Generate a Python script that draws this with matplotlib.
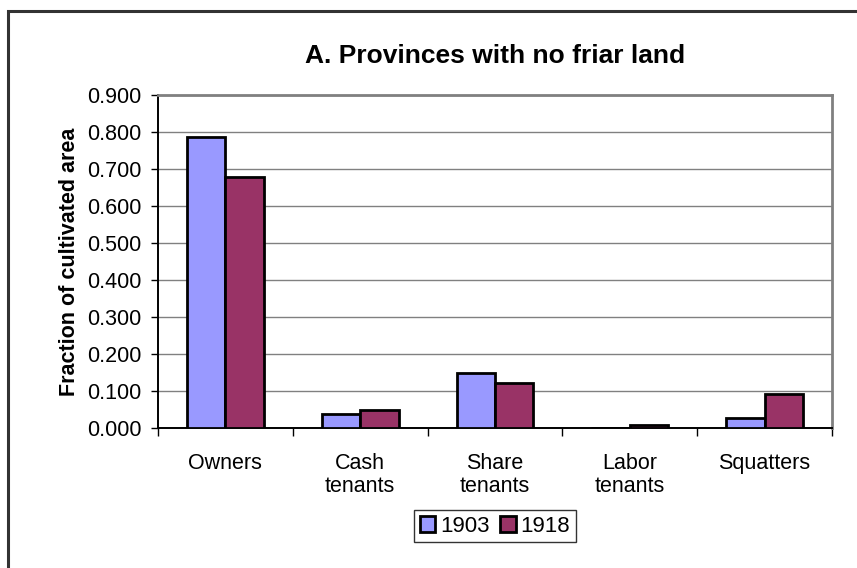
import matplotlib
matplotlib.use("Agg")
import matplotlib.pyplot as plt
import numpy as np
from matplotlib.patches import Rectangle

plt.rcParams['font.family'] = ['Liberation Sans', 'DejaVu Sans']

categories = ["Owners", "Cash\ntenants", "Share\ntenants", "Labor\ntenants", "Squatters"]
series_names = ["1903", "1918"]
values_1903 = [0.786, 0.037, 0.149, 0.0, 0.028]
values_1918 = [0.678, 0.048, 0.121, 0.007, 0.091]
yticks = [0.0, 0.1, 0.2, 0.3, 0.4, 0.5, 0.6, 0.7, 0.8, 0.9]

W, H = 857, 568
fig = plt.figure(figsize=(W / 100, H / 100), dpi=100)
fig.patch.set_facecolor("white")

# outer chart frame (extends past the right and bottom edges)
fig.add_artist(Rectangle((8 / W, -0.05), 1.2, 1 - 11 / H + 0.05, transform=fig.transFigure,
                         fill=False, edgecolor="#333333", linewidth=2.2))

left, right, top, bottom = 158, 832, 95, 428
ax = fig.add_axes([left / W, 1 - bottom / H, (right - left) / W, (bottom - top) / H])

x = np.arange(len(categories))
bw = 0.285
ax.bar(x - bw / 2, values_1903, bw, color="#9999FF", edgecolor="black", linewidth=2.0,
       label=series_names[0], zorder=3)
ax.bar(x + bw / 2, values_1918, bw, color="#993366", edgecolor="black", linewidth=2.0,
       label=series_names[1], zorder=3)

ax.set_xlim(-0.5, len(categories) - 0.5)
ax.set_ylim(0, 0.9)
ax.set_yticks(yticks)
ax.set_yticklabels([f"{v:.3f}" for v in yticks], fontsize=15.5)
ax.yaxis.grid(True, color="#808080", linewidth=1.0, zorder=0)
ax.set_axisbelow(True)

ax.set_xticks(np.arange(len(categories) + 1) - 0.5, minor=False)
ax.set_xticklabels([])
ax.set_xticks(x, minor=True)
ax.set_xticklabels(categories, minor=True, fontsize=15.5, linespacing=1.15)
ax.tick_params(axis="x", which="major", direction="out", length=6, width=1.0, color="black")
ax.tick_params(axis="x", which="minor", length=0, pad=18)
ax.tick_params(axis="y", direction="out", length=5, width=1.0, color="black", pad=7)

for s in ("left", "bottom"):
    ax.spines[s].set_color("black")
    ax.spines[s].set_linewidth(1.4)
for s in ("top", "right"):
    ax.spines[s].set_color("#808080")
    ax.spines[s].set_linewidth(2.0)

ax.set_ylabel("Fraction of cultivated area", fontsize=15.5, fontweight="bold", labelpad=5)

fig.text((left + right) / 2 / W, 1 - 56 / H, "A. Provinces with no friar land",
         ha="center", va="center", fontsize=19, fontweight="bold")

leg = fig.legend(loc="center", bbox_to_anchor=(495 / W, 1 - 526 / H), ncol=2,
                 fontsize=16, frameon=True, fancybox=False, edgecolor="black",
                 handlelength=0.7, handleheight=0.7, handletextpad=0.2,
                 columnspacing=0.5, borderpad=0.25, borderaxespad=0)
leg.get_frame().set_linewidth(1.0)
for h in leg.legend_handles:
    h.set_linewidth(2.0)

fig.savefig("out.png", dpi=100, facecolor="white")
